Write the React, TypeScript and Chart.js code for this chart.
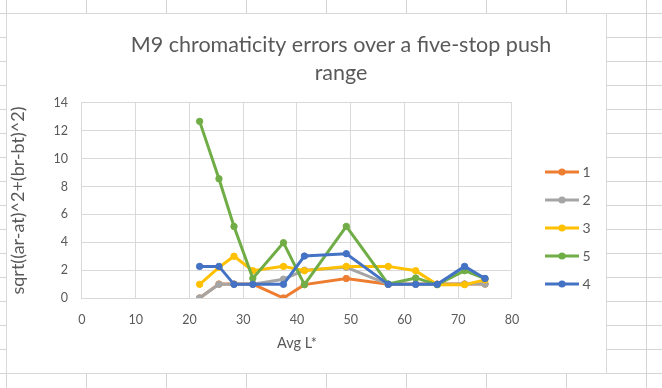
import React, { useEffect, useRef } from "react";
import { Chart, registerables } from "chart.js";

Chart.register(...registerables);

// ---- data ----
const titleLines = ["M9 chromaticity errors over a five-stop push", "range"];
const xAxisTitle = "Avg L*";
const yAxisTitle = "sqrt((ar-at)^2+(br-bt)^2)";
const xValues = [21.9, 25.5, 28.3, 31.8, 37.5, 41.4, 49.2, 57.0, 62.1, 66.1, 71.2, 75.0];
const seriesNames = ["1", "2", "3", "5", "4"];
const series1 = [0, 1.0, 1.0, 1.0, 0.0, 0.96, 1.4, 0.98, 1.0, 1.0, 1.0, 1.0];
const series2 = [0, 0.98, 0.98, 0.98, 1.35, 2.0, 2.2, 0.98, 0.98, 0.98, 1.0, 1.0];
const series3 = [0.98, 2.2, 3.0, 1.96, 2.27, 1.96, 2.27, 2.27, 1.96, 0.96, 0.96, 1.3];
const series5 = [12.68, 8.56, 5.14, 1.41, 3.97, 0.96, 5.14, 1.0, 1.44, 0.96, 1.96, 1.4];
const series4 = [2.27, 2.27, 0.98, 0.98, 0.98, 3.01, 3.18, 0.98, 0.98, 0.98, 2.27, 1.4];
const seriesValues = [series1, series2, series3, series5, series4];
const seriesColors = ["#ED7D31", "#A5A5A5", "#FFC000", "#70AD47", "#4472C4"];
const xMin = 0, xMax = 80, xStep = 10;
const yMin = 0, yMax = 14, yStep = 2;

const TEXT = "#595959";
const GRID = "#d9d9d9";
const FONT = "Lato";

function makeIcon(color: string) {
  const c = document.createElement("canvas");
  c.width = 34;
  c.height = 10;
  const ctx = c.getContext("2d")!;
  ctx.strokeStyle = color;
  ctx.lineWidth = 3;
  ctx.beginPath();
  ctx.moveTo(0, 5);
  ctx.lineTo(34, 5);
  ctx.stroke();
  ctx.fillStyle = color;
  ctx.beginPath();
  ctx.arc(17, 5, 3.6, 0, Math.PI * 2);
  ctx.fill();
  return c;
}

const placePlugin = {
  id: "excelPlace",
  afterLayout(chart: any) {
    const t = chart.titleBlock;
    if (t) {
      t.left = 69;
      t.right = 599;
    }
    const l = chart.legend;
    if (l) {
      const w = l.width;
      const h = l.height;
      l.left = 527.5;
      l.right = 527.5 + w;
      l.top = 137;
      l.bottom = 137 + h;
    }
  },
};

export default function App() {
  const ref = useRef<HTMLCanvasElement | null>(null);
  useEffect(() => {
    if (!ref.current) return;
    const icons = seriesColors.map(makeIcon);
    const n = seriesValues.length;
    const chart = new Chart(ref.current, {
      type: "scatter",
      data: {
        datasets: seriesValues.map((vals, i) => ({
          label: seriesNames[i],
          data: vals.map((v, k) => ({ x: xValues[k], y: v })),
          showLine: true,
          borderColor: seriesColors[i],
          backgroundColor: seriesColors[i],
          borderWidth: 3,
          pointRadius: 3.2,
          pointBorderWidth: 1,
          pointBackgroundColor: seriesColors[i],
          pointBorderColor: seriesColors[i],
          tension: 0,
          order: n - i,
        })),
      },
      options: {
        responsive: false,
        animation: false,
        devicePixelRatio: 1,
        events: [],
        layout: { padding: { left: 0, right: 28, top: 0, bottom: 21.3 } },
        plugins: {
          tooltip: { enabled: false },
          title: {
            display: true,
            text: titleLines,
            color: TEXT,
            font: { family: FONT, size: 21.5, weight: "normal", lineHeight: 1.302 },
            padding: { top: 17, bottom: 16 },
          },
          legend: {
            display: true,
            position: "right",
            align: "start",
            labels: {
              usePointStyle: true,
              pointStyleWidth: 27,
              padding: 14,
              color: TEXT,
              font: { family: FONT, size: 14 },
              generateLabels: (ch: any) => {
                const items = (Chart.defaults.plugins.legend.labels as any).generateLabels(ch);
                return items
                  .map((it: any) => ({ ...it, pointStyle: icons[it.datasetIndex] }))
                  .sort((a: any, b: any) => a.datasetIndex - b.datasetIndex);
              },
            },
          },
        },
        scales: {
          x: {
            type: "linear",
            min: xMin,
            max: xMax,
            ticks: { stepSize: xStep, padding: 14, color: TEXT, font: { family: FONT, size: 12.5 } },
            grid: { color: GRID, drawTicks: false },
            border: { color: GRID },
            title: {
              display: true,
              text: xAxisTitle,
              color: TEXT,
              font: { family: FONT, size: 14.5 },
              padding: { top: -6.7, bottom: 0 },
            },
          },
          y: {
            type: "linear",
            min: yMin,
            max: yMax,
            ticks: { stepSize: yStep, padding: 14, color: TEXT, font: { family: FONT, size: 12.5 } },
            grid: { color: GRID, drawTicks: false },
            border: { color: GRID },
            title: {
              display: true,
              text: yAxisTitle,
              color: TEXT,
              font: { family: FONT, size: 18 },
              padding: { top: 0, bottom: 10.8 },
            },
          },
        },
      },
      plugins: [placePlugin],
    } as any);
    return () => chart.destroy();
  }, []);

  return (
    <div
      style={{
        position: "fixed",
        left: 0,
        top: 0,
        width: 662,
        height: 388,
        backgroundColor: "#fff",
        backgroundImage:
          "linear-gradient(to right, #d4d4d4 1px, transparent 1px), linear-gradient(to bottom, #d4d4d4 1px, transparent 1px)",
        backgroundSize: "80px 24px",
        backgroundPosition: "6px 13px",
        overflow: "hidden",
      }}
    >
      <div
        style={{
          position: "absolute",
          left: 6,
          top: 13,
          width: 601,
          height: 361,
          boxSizing: "border-box",
          border: "1px solid #d9d9d9",
          background: "#fff",
        }}
      >
        <canvas ref={ref} width={599} height={359} style={{ display: "block", width: 599, height: 359 }} />
      </div>
    </div>
  );
}
